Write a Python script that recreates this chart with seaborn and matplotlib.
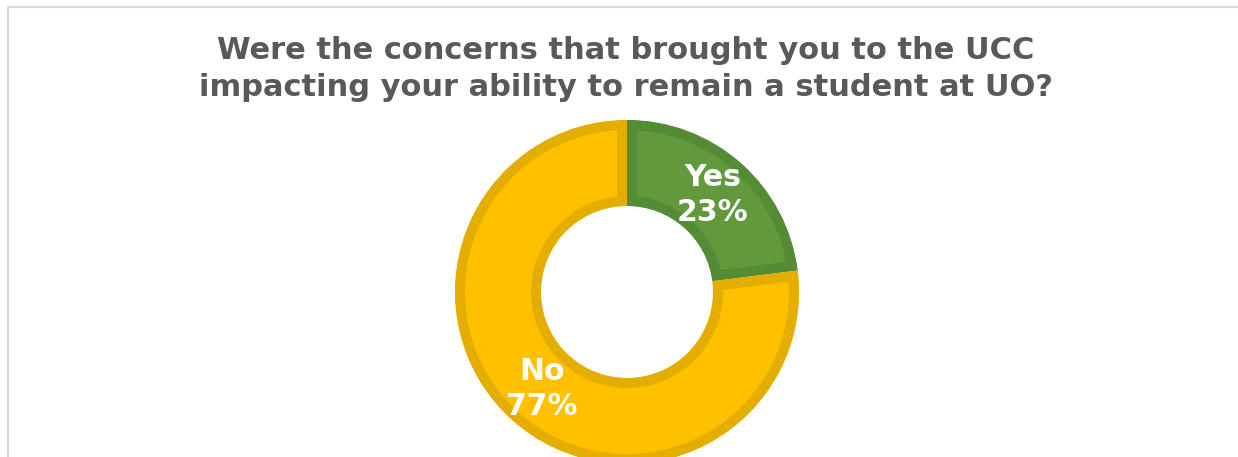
import matplotlib
matplotlib.use("Agg")
import matplotlib.pyplot as plt
from matplotlib.patches import Rectangle
import seaborn as sns

# ---- data ----
categories = ["Yes", "No"]
percentages = [23, 77]
fill_colors = ["#62993D", "#FFC000"]
edge_colors = ["#548B35", "#E4AE00"]
title_text = ("Were the concerns that brought you to the UCC\n"
              "impacting your ability to remain a student at UO?")

sns.set_theme(style="white")
plt.rcParams['font.family'] = ['DejaVu Sans']

W, H = 1238, 457
fig = plt.figure(figsize=(W / 100, H / 100), dpi=100)
ax = fig.add_axes([0, 0, 1, 1])

cx, cy = 627, H - 292
R = 172
ring = 86

wedges, texts = ax.pie(
    percentages,
    labels=[f"{c}\n{p}%" for c, p in zip(categories, percentages)],
    colors=fill_colors,
    startangle=90,
    counterclock=False,
    center=(cx, cy),
    radius=R,
    labeldistance=(R - ring / 2) / R,
    wedgeprops=dict(width=ring),
    frame=True,
)
for w, ec in zip(wedges, edge_colors):
    w.set_edgecolor(ec)
    w.set_linewidth(14.4)  # 20 px stroke, clipped to inside -> 10 px inset
    w.set_clip_on(True)
    w.set_clip_path(w)
for t in texts:
    t.set_ha("center")
    t.set_va("center")
    t.set_color("white")
    t.set_fontsize(21.5)
    t.set_fontweight("bold")
    t.set_linespacing(1.28)

ax.set_xlim(0, W)
ax.set_ylim(0, H)
ax.set_aspect("auto")
ax.axis("off")

fig.text(626 / W, 1 - 69 / H, title_text, ha="center", va="center",
         fontsize=22, fontweight="bold", color="#595959", linespacing=1.38)

fig.patches.append(Rectangle((7.5 / W, -0.1), 1.2, (H - 7.5) / H + 0.1,
                             transform=fig.transFigure, fill=False,
                             edgecolor="#D9D9D9", linewidth=1.6))

fig.savefig("out.png", dpi=100, facecolor="white")
